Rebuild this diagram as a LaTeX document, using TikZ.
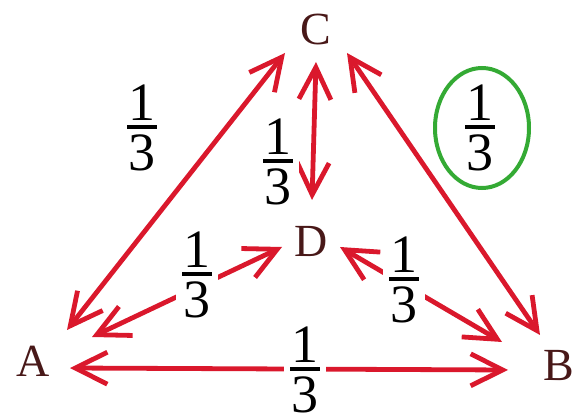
\documentclass[tikz,border=0pt]{standalone}
\usepackage{fontspec}
\setmainfont{Liberation Serif}
\usepackage{tikz}
\usetikzlibrary{arrows.meta}
\definecolor{edgered}{RGB}{218,24,44}
\definecolor{ringgreen}{RGB}{52,170,52}
\definecolor{letterbrown}{RGB}{72,24,24}
% stacked 1 over 3 with a bar, text font digits
\newcommand{\third}{\vbox{\hbox to 15pt{\hss 1\hss}\kern2.2pt\hrule height 2pt\kern2.6pt\hbox to 15pt{\hss 3\hss}}}

\begin{document}
\begin{tikzpicture}[
  x=0.5pt, y=-0.5pt,
  state/.style={inner sep=0pt, text=letterbrown, font=\fontsize{23}{27}\selectfont},
  prob/.style={fill=white, inner xsep=3pt, inner ysep=1pt, font=\fontsize{27}{32}\selectfont},
  arr/.style={{Straight Barb[length=16pt,width=16pt]}-{Straight Barb[length=16pt,width=16pt]}, edgered, line width=2.4pt},
  ring/.style={ringgreen, line width=2pt}
]
\useasboundingbox (0,0) rectangle (574,417);
\node[state] (A) at (33,361) {A};
\node[state] (B) at (559,366) {B};
\node[state] (C) at (316,29) {C};
\node[state] (D) at (311,241) {D};

\draw[arr] ([shift={(34,-31)}]A.center) -- ([shift={(-31,24)}]C.center);
\draw[arr] ([shift={(0,33)}]C.center) -- ([shift={(1,-41)}]D.center);
\draw[arr] ([shift={(31,24)}]C.center) -- ([shift={(-19,-31)}]B.center);
\draw[arr] ([shift={(59,-24)}]A.center) -- ([shift={(-29,6)}]D.center);
\draw[arr] ([shift={(29,6)}]D.center) -- ([shift={(-57,-24)}]B.center);
\draw[arr] ([shift={(37,7)}]A.center) -- ([shift={(-51,4)}]B.center);

\node[prob] (pAC) at (142,128) {\third};
\node[prob] (pCD) at (278,162) {\third};
\node[prob] (pAD) at (197,275) {\third};
\node[prob] (pDB) at (404,280) {\third};
\node[prob] (pAB) at (305,370) {\third};
\node[prob] (pCB) at (480,128) {\third};
\draw[ring] (482,128) ellipse [x radius=23.5pt, y radius=30pt];
\end{tikzpicture}
\end{document}
